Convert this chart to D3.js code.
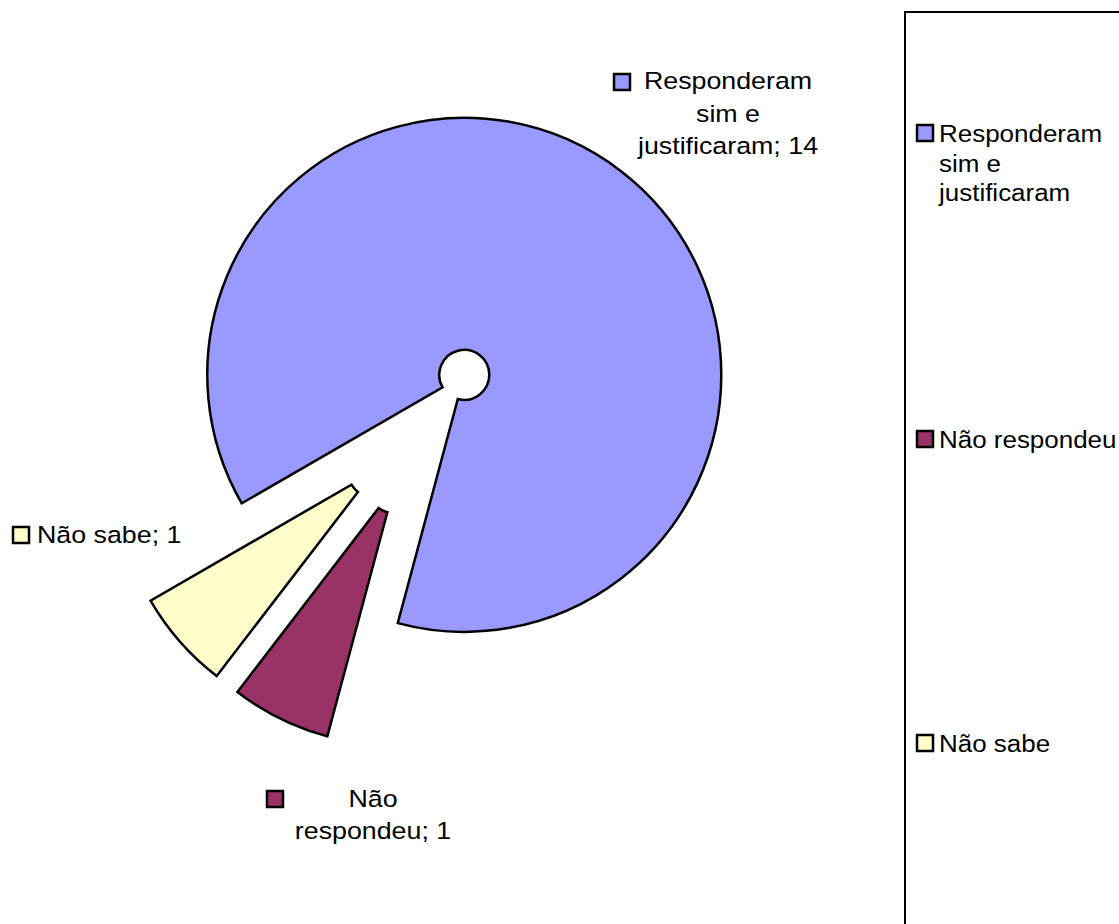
<!DOCTYPE html>
<html>
<head>
<meta charset="utf-8">
<script src="https://cdn.jsdelivr.net/npm/d3@7"></script>
<style>
  html, body { margin: 0; padding: 0; background: #fff; }
  svg { display: block; }
  text { font-family: "Liberation Sans", Arial, sans-serif; font-size: 23.5px; fill: #000; }
</style>
</head>
<body>
<svg id="chart" width="1119" height="924"></svg>
<script>
// Survey answers
const categories = ["Responderam sim e justificaram", "Não respondeu", "Não sabe"];
const values = [14, 1, 1];
const colors = ["#9999FF", "#993366", "#FFFFCC"];
// Wrapped text used in the data labels and the legend
const labelLines = [["Responderam", "sim e", "justificaram; 14"], ["Não", "respondeu; 1"], ["Não sabe; 1"]];
const legendLines = [["Responderam", "sim e", "justificaram"], ["Não respondeu"], ["Não sabe"]];

const svg = d3.select("#chart");
const cx = 423.5, cy = 428, R = 257, r0 = 25, explode = 67;
const XS = 1.14;     // horizontal stretch of the label text
const XS_LEG = 1.105; // horizontal stretch of the legend text

const data = categories.map((c, i) => ({ name: c, value: values[i], color: colors[i], i }));

const pie = d3.pie().value(d => d.value).sort(null)
  .startAngle(240 * Math.PI / 180)
  .endAngle(240 * Math.PI / 180 + 2 * Math.PI);
const arc = d3.arc().innerRadius(r0).outerRadius(R);

const arcs = pie(data);

svg.append("g").attr("transform", `translate(${cx},${cy})`)
  .selectAll("path").data(arcs).join("path")
  .attr("transform", d => {
    const a = (d.startAngle + d.endAngle) / 2;
    return `translate(${explode * Math.sin(a)},${-explode * Math.cos(a)})`;
  })
  .attr("d", arc)
  .attr("fill", d => d.data.color)
  .attr("stroke", "#000")
  .attr("stroke-width", 2.5)
  .attr("stroke-linejoin", "miter");

// Data labels: key square to the left of a centred text block
const labelPos = [
  { key: [614, 74], cx: 728, base: 89, lh: 32.5 },
  { key: [267, 791], cx: 373, base: 807, lh: 32 },
  { key: [13, 527], left: 37, base: 543, lh: 32 }
];
const lab = svg.append("g");
arcs.forEach((d, i) => {
  const p = labelPos[i];
  lab.append("rect")
    .attr("x", p.key[0]).attr("y", p.key[1])
    .attr("width", 16).attr("height", 16)
    .attr("fill", d.data.color).attr("stroke", "#000").attr("stroke-width", 2.5);
  labelLines[i].forEach((t, j) => {
    const x = p.cx !== undefined ? p.cx : p.left;
    lab.append("text")
      .attr("transform", `translate(${x},${p.base + j * p.lh}) scale(${XS},1)`)
      .attr("text-anchor", p.cx !== undefined ? "middle" : "start")
      .text(t);
  });
});

// Legend
const leg = svg.append("g");
leg.append("rect")
  .attr("x", 905).attr("y", 12).attr("width", 260).attr("height", 960)
  .attr("fill", "none").attr("stroke", "#000").attr("stroke-width", 2);
const legBase = [142, 448, 752];
data.forEach((d, i) => {
  leg.append("rect")
    .attr("x", 917).attr("y", legBase[i] - 17)
    .attr("width", 16).attr("height", 16)
    .attr("fill", d.color).attr("stroke", "#000").attr("stroke-width", 2.5);
  legendLines[i].forEach((t, j) => {
    leg.append("text")
      .attr("transform", `translate(939,${legBase[i] + j * 29.5}) scale(${XS_LEG},1)`)
      .text(t);
  });
});
</script>
</body>
</html>
